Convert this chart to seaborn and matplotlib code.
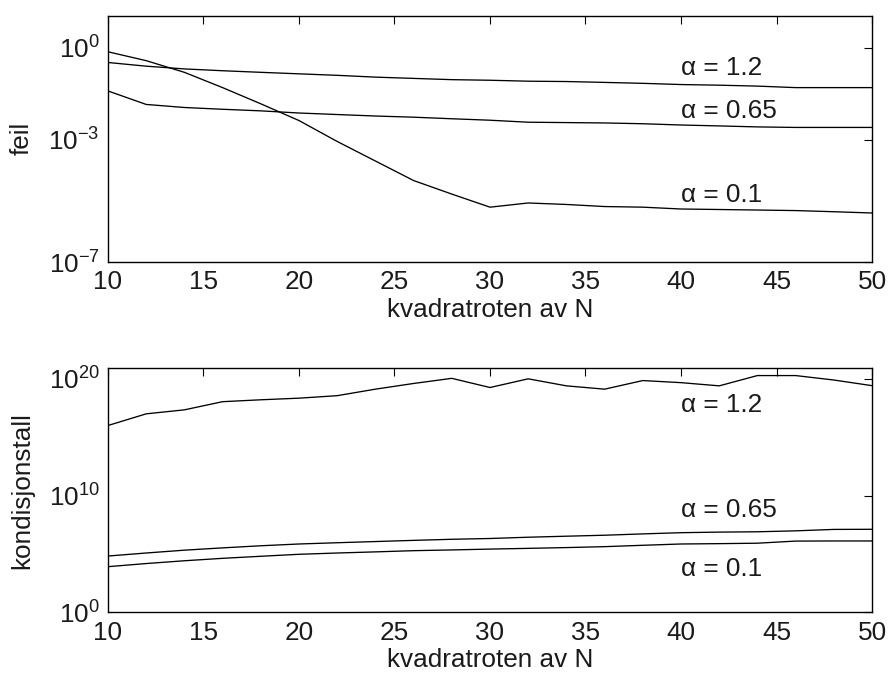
import numpy as np
import pandas as pd
import matplotlib
matplotlib.use("Agg")
import matplotlib.pyplot as plt
import seaborn as sns

# ---- data ----
sqrtN = [10, 12, 14, 16, 18, 20, 22, 24, 26, 28, 30, 32, 34, 36, 38, 40, 42, 44, 46, 48, 50]

feil_a12 = [0.331, 0.251, 0.204, 0.178, 0.158, 0.141, 0.126, 0.110, 0.100, 0.091, 0.087,
            0.081, 0.079, 0.074, 0.069, 0.063, 0.060, 0.056, 0.050, 0.050, 0.050]
feil_a065 = [0.0389, 0.0141, 0.0112, 0.0098, 0.0087, 0.0074, 0.0066, 0.0059, 0.0054, 0.0048, 0.0043,
             0.0037, 0.0036, 0.0035, 0.0033, 0.0030, 0.0028, 0.0026, 0.0025, 0.0025, 0.0025]
feil_a01 = [0.741, 0.380, 0.158, 0.050, 0.0148, 0.0042, 8.7e-4, 2.0e-4, 4.6e-5, 1.66e-5, 6.2e-6,
            8.5e-6, 7.6e-6, 6.5e-6, 6.2e-6, 5.4e-6, 5.2e-6, 5.0e-6, 4.8e-6, 4.4e-6, 4.0e-6]

kond_a12 = [1.0e16, 1.0e17, 2.2e17, 1.1e18, 1.6e18, 2.2e18, 3.6e18, 1.3e19, 4.0e19, 1.1e20, 1.8e19,
            1.0e20, 2.5e19, 1.3e19, 7.1e19, 4.7e19, 2.5e19, 1.9e20, 1.9e20, 7.9e19, 2.6e19]
kond_a065 = [6.6e4, 1.2e5, 2.1e5, 3.3e5, 5.0e5, 7.1e5, 9.1e5, 1.15e6, 1.45e6, 1.8e6, 2.1e6,
             2.7e6, 3.3e6, 4.0e6, 5.2e6, 6.6e6, 7.4e6, 7.9e6, 9.5e6, 1.26e7, 1.29e7]
kond_a01 = [8.1e3, 1.5e4, 2.6e4, 4.2e4, 6.3e4, 9.3e4, 1.2e5, 1.5e5, 1.9e5, 2.2e5, 2.6e5,
            3.0e5, 3.5e5, 4.2e5, 5.5e5, 7.1e5, 7.6e5, 8.3e5, 1.26e6, 1.29e6, 1.29e6]

labels = ["α = 1.2", "α = 0.65", "α = 0.1"]
xticks = [10, 15, 20, 25, 30, 35, 40, 45, 50]
feil_yticks = [1e-7, 1e-3, 1e0]
kond_yticks = [1e0, 1e10, 1e20]
xlabel = "kvadratroten av N"
feil_ylabel = "feil"
kond_ylabel = "kondisjonstall"

# label anchor positions (data coords)
feil_label_y = [0.127, 0.0049, 8.9e-6]
kond_label_y = [1.55e17, 1.55e8, 1.38e3]
label_x = 40

# ---- style ----
sns.set_style("white")
plt.rcParams['font.family'] = ['Liberation Sans', 'DejaVu Sans']
plt.rcParams['mathtext.default'] = 'regular'
plt.rcParams['axes.linewidth'] = 1.0
FS = 18.8
TXT = "#1a1a1a"

fig = plt.figure(figsize=(8.93, 6.82), dpi=100)
ax1 = fig.add_axes([0.1209, 0.6158, 0.8556, 0.3612])
ax2 = fig.add_axes([0.1209, 0.1022, 0.8556, 0.3578])

def draw(ax, series, lab_y, ylim, yticks, ylabel):
    for s, ly, lab in zip(series, lab_y, labels):
        df = pd.DataFrame({"x": sqrtN, "y": s})
        sns.lineplot(data=df, x="x", y="y", ax=ax, color="black", linewidth=0.95)
        ax.text(label_x, ly, lab, fontsize=FS, ha="left", va="baseline", color=TXT)
    ax.set_yscale("log")
    ax.set_xlim(10, 50)
    ax.set_ylim(*ylim)
    ax.set_xticks(xticks)
    ax.set_xticklabels([str(t) for t in xticks])
    ax.set_yticks(yticks)
    ax.yaxis.set_minor_locator(matplotlib.ticker.NullLocator())
    ax.tick_params(direction="in", length=5.5, width=0.8, top=True, right=True,
                   labelsize=FS, pad=6, colors="black")
    ax.tick_params(labelcolor=TXT)
    ax.set_xlabel(xlabel, fontsize=FS, labelpad=2.5, color=TXT)
    ax.set_ylabel(ylabel, fontsize=FS, color=TXT)
    ax.yaxis.label.set_va("center")
    ax.yaxis.set_label_coords(-0.1126, 0.5)
    for sp in ax.spines.values():
        sp.set_color("black")
        sp.set_linewidth(1.0)

draw(ax1, [feil_a12, feil_a065, feil_a01], feil_label_y, (1e-7, 11.2), feil_yticks, feil_ylabel)
draw(ax2, [kond_a12, kond_a065, kond_a01], kond_label_y, (1e0, 8e20), kond_yticks, kond_ylabel)

fig.savefig("out.png", dpi=100)
